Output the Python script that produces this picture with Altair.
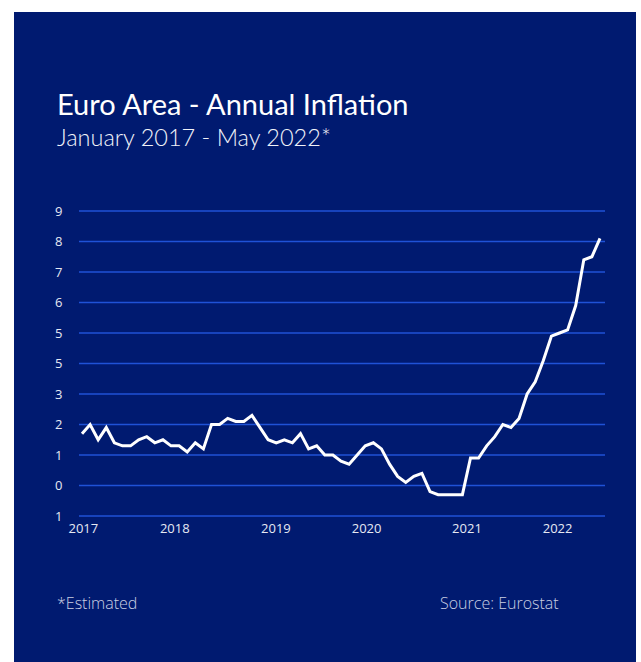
import altair as alt
import pandas as pd

# Euro area annual inflation (%), Jan 2017 - May 2022
values_2017 = [1.7, 2.0, 1.5, 1.9, 1.4, 1.3, 1.3, 1.5, 1.6, 1.4, 1.5, 1.3]
values_2018 = [1.3, 1.1, 1.4, 1.2, 2.0, 2.0, 2.2, 2.1, 2.1, 2.3, 1.9, 1.5]
values_2019 = [1.4, 1.5, 1.4, 1.7, 1.2, 1.3, 1.0, 1.0, 0.8, 0.7, 1.0, 1.3]
values_2020 = [1.4, 1.2, 0.7, 0.3, 0.1, 0.3, 0.4, -0.2, -0.3, -0.3, -0.3, -0.3]
values_2021 = [0.9, 0.9, 1.3, 1.6, 2.0, 1.9, 2.2, 3.0, 3.4, 4.1, 4.9, 5.0]
values_2022 = [5.1, 5.9, 7.4, 7.5, 8.1]

year_labels = ["2017", "2018", "2019", "2020", "2021", "2022"]
year_label_months = [0.1, 11.4, 23.9, 35.1, 47.5, 58.7]  # where the labels sit (in months)
y_ticks = [-1, 0, 1, 2, 3, 4, 5, 6, 7, 8, 9]

title_text = "Euro Area - Annual Inflation"
subtitle_text = "January 2017 - May 2022*"
note_text = "*Estimated"
source_text = "Source: Eurostat"

values = values_2017 + values_2018 + values_2019 + values_2020 + values_2021 + values_2022
df = pd.DataFrame({"month": list(range(len(values))), "inflation": values})
grid_df = pd.DataFrame({"tick": y_ticks})

BG = "#001a70"
GRID = "#1f52d6"
LABEL = "#e6e9f3"
W, H = 526, 305
PAD_L, PAD_T, PAD_R, PAD_B = 79, 211, 36, 146

x_scale = alt.Scale(domain=[-0.37, 64.62], nice=False, zero=False)
y_scale = alt.Scale(domain=[-1, 9], nice=False, zero=False)

label_expr = " : ".join(
    f"abs(datum.value - {m}) < 0.01 ? '{l}'" for m, l in zip(year_label_months, year_labels)
) + " : ''"

y_axis = alt.Axis(values=y_ticks, title=None, domain=False, ticks=False,
                  grid=False, zindex=1,
                  labelExpr="datum.value == -1 ? '1' : datum.value == 4 ? '5' : datum.label",
                  labelPadding=17, labelFont="Open Sans", labelFontSize=13,
                  labelFontWeight=500, labelColor=LABEL)

panel = alt.Chart(df).mark_rect(color=BG).encode(
    x=alt.value(14 - PAD_L), x2=alt.value(636 - PAD_L),
    y=alt.value(12 - PAD_T), y2=alt.value(662 - PAD_T),
)

grid = alt.Chart(grid_df).mark_rule(color=GRID, strokeWidth=1.5).encode(
    y=alt.Y("tick:Q", scale=y_scale, axis=y_axis),
    x=alt.value(0), x2=alt.value(W),
)

line = alt.Chart(df).mark_line(color="white", strokeWidth=3, strokeJoin="miter").encode(
    x=alt.X("month:Q", scale=x_scale,
            axis=alt.Axis(values=year_label_months, labelExpr=label_expr, title=None,
                          grid=False, domain=False, ticks=False, labelPadding=6,
                          labelFont="Open Sans", labelFontSize=13, labelFontWeight=500,
                          labelColor=LABEL, labelBaseline="top", labelFlush=False, zindex=1)),
    y=alt.Y("inflation:Q", scale=y_scale, axis=y_axis),
)

def txt(text, x, y, size, weight, color, font):
    return alt.Chart(pd.DataFrame({"t": [text]})).mark_text(
        align="left", baseline="alphabetic", fontSize=size, fontWeight=weight,
        color=color, font=font,
    ).encode(text="t:N", x=alt.value(x - PAD_L), y=alt.value(y - PAD_T))

title = txt(title_text, 57, 115, 29, 400, "white", "Lato")
subtitle = txt(subtitle_text, 57, 146, 23.5, 300, "#f0f2f8", "Lato")
note = txt(note_text, 57, 609, 16, 300, "#c9cfe3", "Open Sans")
source = txt(source_text, 440, 609, 16, 300, "#c9cfe3", "Open Sans")

chart = alt.layer(panel, grid, line, title, subtitle, note, source).properties(
    width=W, height=H,
    autosize=alt.AutoSizeParams(type="none"),
    padding={"left": PAD_L, "top": PAD_T, "right": PAD_R, "bottom": PAD_B},
    background="white",
).configure_view(stroke=None)

chart.save("out.html", embed_options={"renderer": "svg", "actions": False})
